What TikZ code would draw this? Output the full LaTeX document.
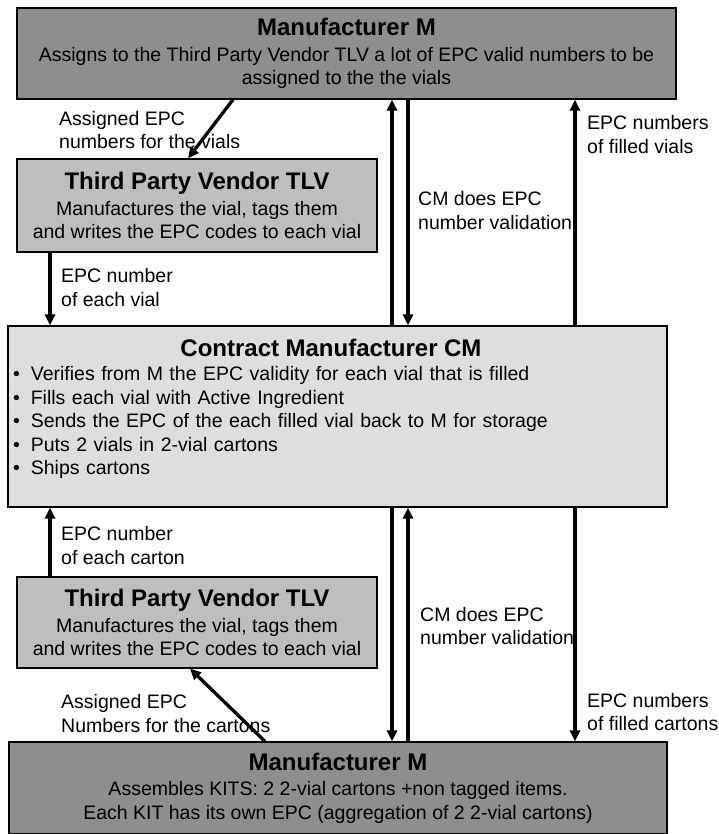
\documentclass[tikz,border=0pt]{standalone}
\usepackage{fontspec}
\setmainfont{Liberation Sans}
\usetikzlibrary{arrows.meta,positioning}
\definecolor{mgray}{RGB}{142,142,142}
\definecolor{tgray}{RGB}{190,190,190}
\definecolor{cgray}{RGB}{222,222,222}
\newcommand{\titlefont}{\fontsize{24}{28}\selectfont\bfseries}
\newcommand{\bodyfont}{\fontsize{19.5}{23.5}\selectfont}
\newcommand{\cmitem}{\hspace*{2pt}\textbullet\hspace{11pt}}

\begin{document}
\begin{tikzpicture}[x=1pt,y=-1pt,
    mbox/.style={draw, line width=1.2pt, fill=mgray, minimum width=659pt, align=center, font=\bodyfont},
    tlvbox/.style={draw, line width=1.2pt, fill=tgray, minimum width=360pt, align=center, font=\bodyfont},
    cmbox/.style={draw, line width=1.2pt, fill=cgray, minimum width=659pt, minimum height=181pt},
    lbl/.style={font=\bodyfont, align=left, anchor=west, inner sep=0pt},
    arr/.style={-{Triangle[length=11pt,width=10pt]}, line width=3.3pt}]
            \path[use as bounding box, fill=white] (0,0) rectangle (718,834);

            % Manufacturer at the top
            \node[mbox, minimum height=91pt] (mtop) at (346.5,53.5) {
                {\titlefont Manufacturer M}\\[2pt]
                Assigns to the Third Party Vendor TLV a lot of EPC valid numbers to be\\
                assigned to the the vials
            };

            % Vendor of the vials
            \node[tlvbox, minimum height=93pt] (tlvtop) at (197,205.5) {
                {\titlefont Third Party Vendor TLV}\\[2pt]
                Manufactures the vial, tags them\\
                and writes the EPC codes to each vial
            };

            % Contract manufacturer
            \node[cmbox] (cm) at (337.5,416.5) {};
            \node[font=\bodyfont, text width=648pt, align=left, inner sep=0pt] (cmlist) at (335,409) {
                \makebox[640pt]{\titlefont Contract Manufacturer CM}\\[1pt]
                \cmitem Verifies from M the EPC validity for each vial that is filled\\
                \cmitem Fills each vial with Active Ingredient\\
                \cmitem Sends the EPC of the each filled vial back to M for storage\\
                \cmitem Puts 2 vials in 2-vial cartons\\
                \cmitem Ships cartons
            };

            % Vendor of the cartons
            \node[tlvbox, minimum height=91pt] (tlvbot) at (197,622.5) {
                {\titlefont Third Party Vendor TLV}\\[2pt]
                Manufactures the vial, tags them\\
                and writes the EPC codes to each vial
            };

            % Manufacturer at the bottom
            \node[mbox, minimum width=658pt, minimum height=92pt] (mbot) at (338,788) {
                {\titlefont Manufacturer M}\\[2pt]
                Assembles KITS: 2 2-vial cartons +non tagged items.\\
                Each KIT has its own EPC (aggregation of 2 2-vial cartons)
            };

            % Labels
            \node[lbl] (lassignv) at (59,130) {Assigned EPC\\numbers for the vials};
            \node[lbl] (leachv) at (61,287.5) {EPC number\\of each vial};
            \node[lbl] (lcheckv) at (418,210.5) {CM does EPC\\number validation};
            \node[lbl] (lfilledv) at (587,134.5) {EPC numbers\\of filled vials};
            \node[lbl] (leachc) at (61,545.5) {EPC number\\of each carton};
            \node[lbl] (lcheckc) at (420,626) {CM does EPC\\number validation};
            \node[lbl] (lassignc) at (61,713.5) {Assigned EPC\\Numbers for the cartons};
            \node[lbl] (lfilledc) at (587,712) {EPC numbers\\of filled cartons};

            % Arrow columns
            \coordinate (xl) at (50,0);
            \coordinate (xa) at (392,0);
            \coordinate (xb) at (408,0);
            \coordinate (xr) at (575,0);
            \coordinate (dta) at (233,0);
            \coordinate (dtb) at (188,0);
            \coordinate (dba) at (265,0);
            \coordinate (dbb) at (190,0);

            % Arrows
            \draw[arr] (mtop.south -| dta) -- (tlvtop.north -| dtb);
            \draw[arr] (tlvtop.south -| xl) -- (cm.north -| xl);
            \draw[arr] (cm.north -| xa) -- (mtop.south -| xa);
            \draw[arr] (mtop.south -| xb) -- (cm.north -| xb);
            \draw[arr] (cm.north -| xr) -- (mtop.south -| xr);
            \draw[arr] (tlvbot.north -| xl) -- (cm.south -| xl);
            \draw[arr] (cm.south -| xa) -- (mbot.north -| xa);
            \draw[arr] (mbot.north -| xb) -- (cm.south -| xb);
            \draw[arr] (cm.south -| xr) -- (mbot.north -| xr);
            \draw[arr] (mbot.north -| dba) -- (tlvbot.south -| dbb);
        \end{tikzpicture}
\end{document}
